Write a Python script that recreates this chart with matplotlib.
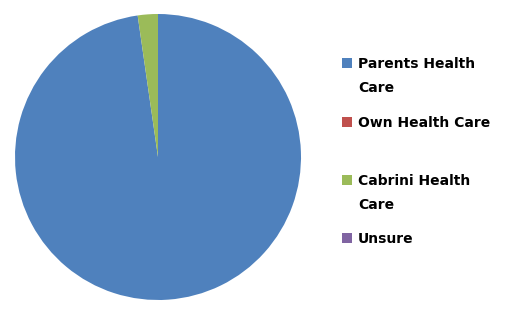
import matplotlib.pyplot as plt
from matplotlib.patches import Rectangle

labels = ['Parents Health\nCare', 'Own Health Care', 'Cabrini Health\nCare', 'Unsure']
values = [43, 0, 1, 0]
colors = ['#4F81BD', '#C0504D', '#9BBB59', '#8064A2']
# legend row positions (pixels from top)
legend_y = [63, 122, 180, 238]

W, H = 508, 314
fig = plt.figure(figsize=(W / 100, H / 100), dpi=100)

cx, cy, r = 158, 157, 143
ax = fig.add_axes([(cx - r) / W, (H - cy - r) / H, 2 * r / W, 2 * r / H])
ax.pie(values, colors=colors, startangle=90, counterclock=False,
       wedgeprops={'linewidth': 0})
ax.set_xlim(-1, 1)
ax.set_ylim(-1, 1)
ax.set_aspect('equal')
ax.axis('off')

for lab, c, y in zip(labels, colors, legend_y):
    fig.patches.append(Rectangle((342 / W, (H - y - 5) / H), 10 / W, 10 / H,
                                 transform=fig.transFigure, facecolor=c, edgecolor='none'))
    fig.text(358 / W, (H - y + 6) / H, lab, ha='left', va='top',
             fontsize=10, fontweight='bold', family='DejaVu Sans',
             linespacing=1.9)

plt.savefig('out.png', dpi=100)
